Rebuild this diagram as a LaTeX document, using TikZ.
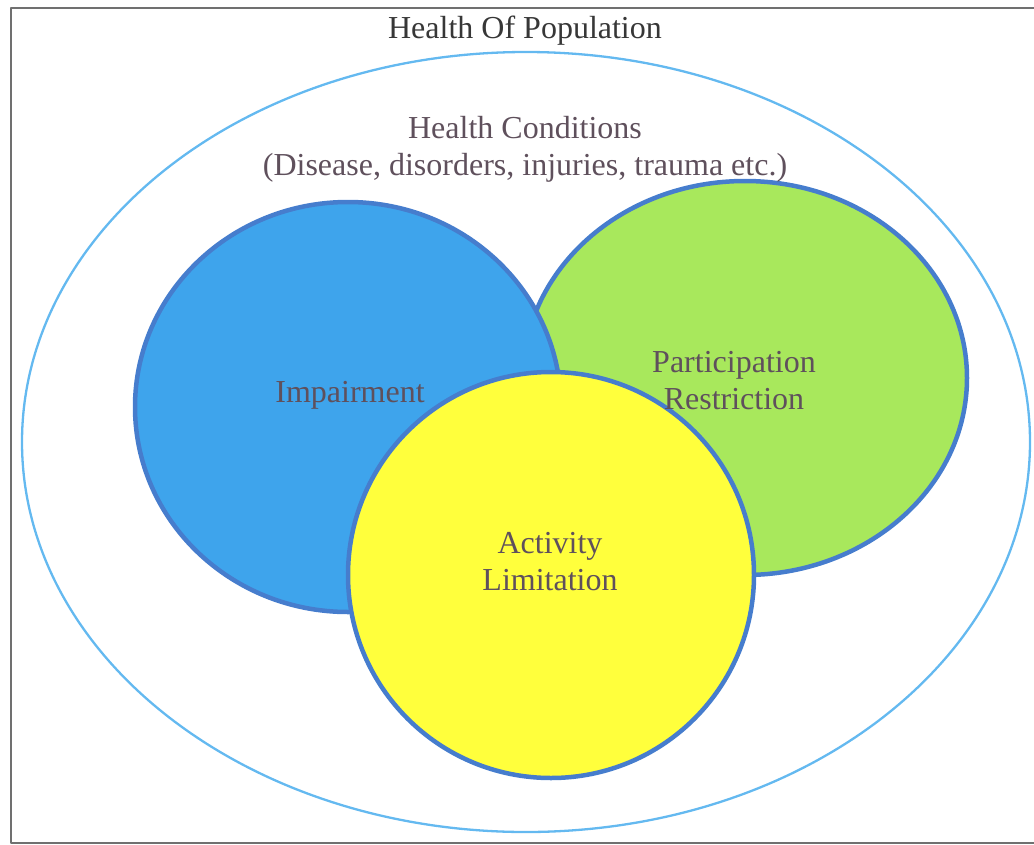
\documentclass[tikz,border=0pt]{standalone}
\usepackage{fontspec}
\setmainfont{Liberation Serif}

\definecolor{framegray}{RGB}{112,112,112}
\definecolor{skyline}{RGB}{100,185,240}
\definecolor{rimblue}{RGB}{70,125,205}
\definecolor{impblue}{RGB}{62,164,236}
\definecolor{partgreen}{RGB}{168,232,92}
\definecolor{actyellow}{RGB}{255,255,60}
\definecolor{titlegray}{RGB}{55,55,55}
\definecolor{labelgray}{RGB}{95,80,92}

\tikzset{
  venn/.style={draw=rimblue, line width=4.5pt},
  label text/.style={text=labelgray, align=center, font=\fontsize{32}{37}\selectfont}
}

\begin{document}
\begin{tikzpicture}[x=1pt, y=-1pt, line cap=round, line join=round]
        \useasboundingbox (0,0) rectangle (1034,844);

        % 枠(右側は切れている)
        \draw[framegray, line width=2.5pt] (1034,8) -- (11,8) -- (11,843) -- (1034,843);

        % 外側の楕円(集団全体)
        \draw[skyline, line width=2.3pt] (526,442) ellipse [x radius=504pt, y radius=390pt];

        % 三つの円(緑 → 青 → 黄の順に重ねる)
        \draw[venn, fill=partgreen] (745,378) ellipse [x radius=222pt, y radius=197pt];
        \draw[venn, fill=impblue] (348,407) ellipse [x radius=213pt, y radius=205pt];
        \draw[venn, fill=actyellow] (551,575) ellipse [x radius=203pt, y radius=203pt];

        % ラベル
        \node[text=titlegray, font=\fontsize{32}{37}\selectfont] (title) at (525,31) {Health Of Population};
        \node[label text] (conditions) at (525,149) {Health Conditions\\(Disease, disorders, injuries, trauma etc.)};
        \node[label text] (impairment) at (350,395) {Impairment};
        \node[label text] (participation) at (734,381) {Participation\\Restriction};
        \node[label text] (activity) at (550,562) {Activity\\Limitation};
    \end{tikzpicture}
\end{document}
